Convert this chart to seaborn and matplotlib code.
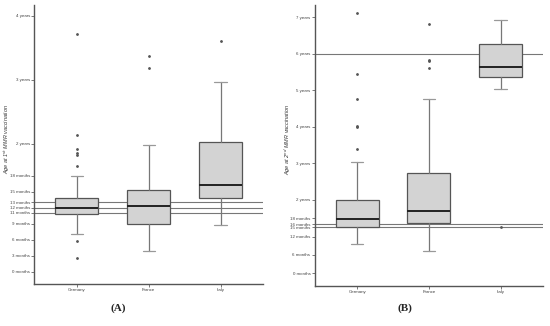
import seaborn as sns
import matplotlib.pyplot as plt

countries = ["Germany", "France", "Italy"]

# age at 1st MMR vaccination, in months
first_q1 = [10.9, 9.0, 13.8]
first_med = [12.0, 12.3, 16.2]
first_q3 = [13.9, 15.3, 24.3]
first_lo = [7.0, 3.9, 8.75]
first_hi = [18.0, 23.8, 35.5]
first_fliers = [[5.75, 2.5, 19.8, 21.8, 22.3, 22.9, 25.7, 44.6],
                [38.2, 40.5],
                [43.2]]
first_ticks = [0, 3, 6, 9, 11, 12, 13, 15, 18, 24, 36, 48]
first_labels = ["0 months", "3 months", "6 months", "9 months", "11 months",
                "12 months", "13 months", "15 months", "18 months",
                "2 years", "3 years", "4 years"]
first_refs = [11, 12, 13]

# age at 2nd MMR vaccination, in months
second_q1 = [15.0, 16.3, 64.3]
second_med = [17.8, 20.3, 67.5]
second_q3 = [24.0, 32.8, 75.1]
second_lo = [9.4, 7.1, 60.3]
second_hi = [36.4, 57.1, 83.0]
second_fliers = [[40.7, 47.9, 48.2, 57.1, 65.4, 85.2],
                 [67.2, 69.7, 70.0, 81.6],
                 [15.0]]
second_ticks = [0, 6, 12, 15, 16, 18, 24, 36, 48, 60, 72, 84]
second_labels = ["0 months", "6 months", "12 months", "15 months", "16 months",
                 "18 months", "2 years", "3 years", "4 years", "5 years",
                 "6 years", "7 years"]
second_refs = [15, 16, 72]

sns.set_theme(style="white")
plt.rcParams["font.family"] = ["Liberation Sans", "DejaVu Sans"]

fig = plt.figure(figsize=(5.5, 3.26), dpi=100)
ax1 = fig.add_axes([0.062, 0.129, 0.416, 0.856])
ax2 = fig.add_axes([0.572, 0.123, 0.415, 0.862])


def draw(ax, q1, med, q3, lo, hi, fliers, ticks, labels, refs, ylim, ylabel):
    stats = []
    for i in range(len(countries)):
        stats.append(dict(q1=q1[i], med=med[i], q3=q3[i], whislo=lo[i],
                          whishi=hi[i], fliers=fliers[i], label=countries[i]))
    for r in refs:
        ax.axhline(r, color="#777777", lw=0.8, zorder=1)
    ax.bxp(stats, positions=[1, 2, 3], widths=0.6, patch_artist=True,
           capwidths=0.17,
           boxprops=dict(facecolor="#d3d3d3", edgecolor="#555555", lw=0.9),
           medianprops=dict(color="#222222", lw=1.4),
           whiskerprops=dict(color="#777777", lw=0.9),
           capprops=dict(color="#999999", lw=0.9),
           flierprops=dict(marker="o", markersize=1.0, markerfacecolor="#555555",
                           markeredgecolor="#555555"),
           zorder=2)
    ax.set_xlim(0.405, 3.59)
    ax.set_ylim(*ylim)
    ax.set_yticks(ticks)
    ax.set_yticklabels(labels)
    ax.tick_params(axis="both", labelsize=3.2, colors="#444444", length=2,
                   width=0.5, pad=1, left=True, bottom=True, direction="out")
    ax.set_ylabel(ylabel, fontsize=4.0, style="italic", color="#333333",
                  va="center")
    ax.yaxis.set_label_coords(-0.118, 0.52)
    sns.despine(ax=ax)
    for s in ["left", "bottom"]:
        ax.spines[s].set_color("#555555")
        ax.spines[s].set_linewidth(1.0)


draw(ax1, first_q1, first_med, first_q3, first_lo, first_hi, first_fliers,
     first_ticks, first_labels, first_refs, (-2.3, 50.0),
     r"Age at 1$^{st}$ MMR vaccination")
draw(ax2, second_q1, second_med, second_q3, second_lo, second_hi, second_fliers,
     second_ticks, second_labels, second_refs, (-4.2, 88.0),
     r"Age at 2$^{nd}$ MMR vaccination")

fig.text(118 / 550, 1 - 308 / 326, "(A)", ha="center", va="center",
         fontsize=8, fontweight="bold", family="Liberation Serif")
fig.text(405 / 550, 1 - 308 / 326, "(B)", ha="center", va="center",
         fontsize=8, fontweight="bold", family="Liberation Serif")

fig.savefig("out.png", dpi=100)
